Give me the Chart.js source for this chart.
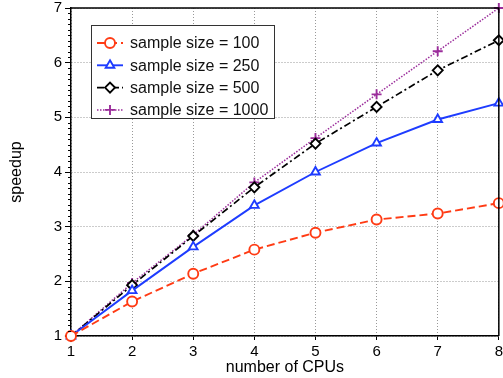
<!DOCTYPE html>
<html>
<head>
<meta charset="utf-8">
<script src="https://cdn.jsdelivr.net/npm/chart.js@4/dist/chart.umd.min.js"></script>
<style>
  html, body { margin: 0; padding: 0; background: #fff; overflow: hidden; }
  #wrap { width: 503px; height: 378px; overflow: hidden; }
</style>
</head>
<body>
<div id="wrap"><canvas id="grafico" width="506" height="378"></canvas></div>
<script>
const cpus = [1, 2, 3, 4, 5, 6, 7, 8];
const speedup100 = [1, 1.63, 2.14, 2.58, 2.89, 3.13, 3.24, 3.43];
const speedup250 = [1, 1.83, 2.63, 3.39, 4.0, 4.53, 4.96, 5.26];
const speedup500 = [1, 1.93, 2.83, 3.72, 4.52, 5.19, 5.86, 6.41];
const speedup1000 = [1, 1.97, 2.85, 3.81, 4.62, 5.42, 6.21, 7.0];
const etiquetas = ["sample size = 100", "sample size = 250", "sample size = 500", "sample size = 1000"];

const FUENTE = "'Liberation Sans', Arial, Helvetica, sans-serif";

function puntos(valores) {
  return cpus.map((x, i) => ({ x, y: valores[i] }));
}

function serie(label, valores, color, estilo, dash, ancho) {
  return {
    label,
    data: puntos(valores),
    borderColor: color,
    backgroundColor: "#fff",
    borderWidth: ancho,
    borderDash: dash,
    pointStyle: estilo,
    pointRadius: 5,
    pointBorderWidth: 1.9,
    pointBorderColor: color,
    pointBackgroundColor: "#fff",
    tension: 0,
    clip: false
  };
}

const datasets = [
  serie(etiquetas[0], speedup100, "#ff3b14", "circle", [8, 4], 1.9),
  serie(etiquetas[1], speedup250, "#1e3cff", "triangle", [], 1.9),
  serie(etiquetas[2], speedup500, "#000000", "rectRot", [7, 3, 2, 3], 1.7),
  serie(etiquetas[3], speedup1000, "#9b2d9b", "cross", [1.5, 1.5], 1.5)
];

// marco superior/derecho y ticks menores del eje y
const marco = {
  id: "marco",
  afterDraw(chart) {
    const { ctx, chartArea: a, scales } = chart;
    ctx.save();
    ctx.strokeStyle = "#000";
    ctx.lineWidth = 1.5;
    ctx.beginPath();
    ctx.moveTo(a.left, a.top);
    ctx.lineTo(a.right, a.top);
    ctx.lineTo(a.right, a.bottom);
    ctx.stroke();

    ctx.lineWidth = 1;
    ctx.beginPath();
    for (let i = 10; i <= 70; i++) {
      if (i % 10 === 0) continue;
      const y = Math.round(scales.y.getPixelForValue(i / 10)) + 0.5;
      ctx.moveTo(a.left - 3, y);
      ctx.lineTo(a.left, y);
    }
    ctx.stroke();
    ctx.restore();
  }
};

// leyenda dentro del area del grafico
const leyenda = {
  id: "leyenda",
  afterDraw(chart) {
    const { ctx } = chart;
    const x0 = 91, y0 = 25, w = 183, h = 93;
    ctx.save();
    ctx.fillStyle = "#fff";
    ctx.fillRect(x0, y0, w, h);
    ctx.strokeStyle = "#333";
    ctx.lineWidth = 1;
    ctx.strokeRect(x0 + 0.5, y0 + 0.5, w, h);

    chart.data.datasets.forEach((ds, i) => {
      const y = 43 + i * 22.3;
      ctx.strokeStyle = ds.borderColor;
      ctx.lineWidth = ds.borderWidth;
      ctx.setLineDash(ds.borderDash);
      ctx.beginPath();
      ctx.moveTo(97, y);
      ctx.lineTo(123, y);
      ctx.stroke();
      ctx.setLineDash([]);
      ctx.fillStyle = "#fff";
      ctx.lineWidth = ds.pointBorderWidth;
      Chart.helpers.drawPoint(ctx, { pointStyle: ds.pointStyle, radius: ds.pointRadius, rotation: 0, borderWidth: ds.pointBorderWidth }, 110, y);
      ctx.fillStyle = "#111";
      ctx.font = "16px " + FUENTE;
      ctx.textBaseline = "middle";
      ctx.textAlign = "left";
      ctx.fillText(ds.label, 130, y + 1);
    });
    ctx.restore();
  }
};

function init() {
  const canvas = document.getElementById("grafico");
  new Chart(canvas, {
    type: "line",
    data: { datasets },
    options: {
      responsive: false,
      animation: false,
      layout: { padding: { top: 8, right: 0, left: 0, bottom: 0 } },
      plugins: { legend: { display: false }, tooltip: { enabled: false } },
      scales: {
        x: {
          type: "linear",
          min: 1,
          max: 8,
          ticks: { stepSize: 1, color: "#000", padding: 3, font: { family: FUENTE, size: 15 } },
          grid: { color: "#999", lineWidth: 1, tickLength: 4, tickColor: "#000" },
          border: { color: "#000", width: 1.5, dash: [1, 2] },
          title: { display: true, text: "number of CPUs", color: "#000", font: { family: FUENTE, size: 16 }, padding: { top: 0, bottom: 1 } },
          afterFit(scale) {
            scale.height = 42;
          }
        },
        y: {
          min: 1,
          max: 7,
          ticks: { stepSize: 1, color: "#000", padding: 3, font: { family: FUENTE, size: 15 } },
          grid: { color: "#999", lineWidth: 1, tickLength: 6, tickColor: "#000" },
          border: { color: "#000", width: 1.5, dash: [1, 2] },
          title: { display: true, text: "speedup", color: "#000", font: { family: FUENTE, size: 16 }, padding: { top: 7, bottom: 0 } },
          afterFit(scale) {
            scale.width = 71;
            scale.paddingTop = 0;
            scale.paddingBottom = 0;
          }
        }
      }
    },
    plugins: [marco, leyenda]
  });
}

if (document.readyState === "loading") {
  document.addEventListener("DOMContentLoaded", init);
} else {
  init();
}
</script>
</body>
</html>
